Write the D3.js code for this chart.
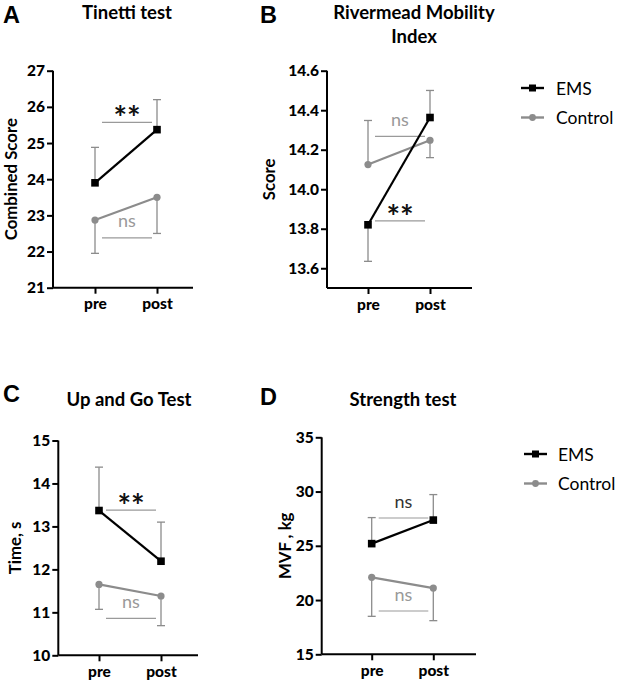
<!DOCTYPE html>
<html>
<head>
<meta charset="utf-8">
<script src="https://cdn.jsdelivr.net/npm/d3@7"></script>
<style>
  body { margin: 0; background: #fff; }
  svg { display: block; font-family: Lato, "Open Sans", sans-serif; }
</style>
</head>
<body>
<svg id="chart" width="617" height="687"></svg>
<script>
// time points
var timepoints = ["pre", "post"];

// A: Tinetti test
var tinettiEms = [23.9, 25.37];
var tinettiEmsErr = [24.88, 26.2];
var tinettiCtrl = [22.87, 23.5];
var tinettiCtrlErr = [21.95, 22.5];
var tinettiTicks = [21, 22, 23, 24, 25, 26, 27];

// B: Rivermead Mobility Index
var rivermeadEms = [13.82, 14.363];
var rivermeadEmsErr = [13.635, 14.5];
var rivermeadCtrl = [14.125, 14.248];
var rivermeadCtrlErr = [14.348, 14.16];
var rivermeadTicks = [13.6, 13.8, 14.0, 14.2, 14.4, 14.6];

// C: Up and Go Test
var upgoEms = [13.37, 12.19];
var upgoEmsErr = [14.38, 13.1];
var upgoCtrl = [11.65, 11.38];
var upgoCtrlErr = [11.07, 10.69];
var upgoTicks = [10, 11, 12, 13, 14, 15];

// D: Strength test
var strengthEms = [25.2, 27.37];
var strengthEmsErr = [27.6, 29.72];
var strengthCtrl = [22.09, 21.1];
var strengthCtrlErr = [18.5, 18.1];
var strengthTicks = [15, 20, 25, 30, 35];

// significance bars: y value, label, group
var tinettiSig = [{ y: 25.57, label: "**", group: "ems" }, { y: 22.38, label: "ns", group: "ctrl" }];
var rivermeadSig = [{ y: 14.268, label: "ns", group: "ctrl" }, { y: 13.84, label: "**", group: "ems" }];
var upgoSig = [{ y: 13.38, label: "**", group: "ems" }, { y: 10.86, label: "ns", group: "ctrl" }];
var strengthSig = [{ y: 27.56, label: "ns", group: "ems" }, { y: 18.99, label: "ns", group: "ctrl" }];

var legendLabels = ["EMS", "Control"];

var GRAY = "#8c8c8c";
var svg = d3.select("#chart");

var panels = [
  { letter: "A", title: ["Tinetti test"], yLabel: "Combined Score",
    ems: tinettiEms, emsErr: tinettiEmsErr, ctrl: tinettiCtrl, ctrlErr: tinettiCtrlErr,
    ticks: tinettiTicks, domain: [21, 27], fmt: d3.format("d"), sig: tinettiSig,
    ax: 53, top: 70.7, bottom: 287.7, right: 193, pre: 95, post: 157,
    letterPos: [3, 23.3], titleX: 127, titleY: 19, yLabelX: 10, legend: null },
  { letter: "B", title: ["Rivermead Mobility", "Index"], yLabel: "Score",
    ems: rivermeadEms, emsErr: rivermeadEmsErr, ctrl: rivermeadCtrl, ctrlErr: rivermeadCtrlErr,
    ticks: rivermeadTicks, domain: [13.5, 14.6], fmt: d3.format(".1f"), sig: rivermeadSig,
    ax: 327, top: 70.7, bottom: 288, right: 472, pre: 368, post: 430,
    letterPos: [260, 23.3], titleX: 414, titleY: 19, yLabelX: 268, legend: { x: 521, y: 88, tx: 556 } },
  { letter: "C", title: ["Up and Go Test"], yLabel: "Time, s",
    ems: upgoEms, emsErr: upgoEmsErr, ctrl: upgoCtrl, ctrlErr: upgoCtrlErr,
    ticks: upgoTicks, domain: [10, 15], fmt: d3.format("d"), sig: upgoSig,
    ax: 58.3, top: 440.5, bottom: 655.3, right: 198, pre: 99, post: 161,
    letterPos: [3, 402], titleX: 129, titleY: 406, yLabelX: 14, legend: null },
  { letter: "D", title: ["Strength test"], yLabel: "MVF , kg",
    ems: strengthEms, emsErr: strengthEmsErr, ctrl: strengthCtrl, ctrlErr: strengthCtrlErr,
    ticks: strengthTicks, domain: [15, 35], fmt: d3.format("d"), sig: strengthSig,
    ax: 321.7, top: 437.3, bottom: 654.3, right: 476, pre: 371.7, post: 433.3,
    letterPos: [260, 405], titleX: 403, titleY: 406, yLabelX: 284, legend: { x: 524, y: 454, tx: 558 } }
];

panels.forEach(function (p) {
  var y = d3.scaleLinear().domain(p.domain).range([p.bottom, p.top]);
  var x = d3.scalePoint().domain(timepoints).range([p.pre, p.post]);

  // panel letter
  svg.append("text")
    .attr("x", p.letterPos[0]).attr("y", p.letterPos[1])
    .style("font-family", "'Liberation Sans', Arial, sans-serif")
    .style("font-weight", "bold").style("font-size", "23.5px")
    .text(p.letter);

  // title
  p.title.forEach(function (t, i) {
    svg.append("text")
      .attr("x", p.titleX).attr("y", p.titleY + i * 23.5)
      .attr("text-anchor", "middle")
      .style("font-weight", "bold").style("font-size", "18.5px")
      .text(t);
  });

  // y axis title
  svg.append("text")
    .attr("transform", "translate(" + p.yLabelX + "," + ((p.top + p.bottom) / 2) + ") rotate(-90)")
    .attr("text-anchor", "middle")
    .attr("dominant-baseline", "central")
    .style("font-weight", "bold").style("font-size", "16.8px")
    .text(p.yLabel);

  // y axis
  var gy = svg.append("g")
    .attr("transform", "translate(" + p.ax + ",0)")
    .call(d3.axisLeft(y).tickValues(p.ticks).tickFormat(p.fmt).tickSize(6).tickPadding(2).tickSizeOuter(0));
  gy.select(".domain").attr("d", "M0," + p.top + "V" + p.bottom);

  // x axis
  var gx = svg.append("g")
    .attr("transform", "translate(0," + p.bottom + ")")
    .call(d3.axisBottom(x).tickSize(6).tickPadding(4.5).tickSizeOuter(0));
  gx.select(".domain").attr("d", "M" + p.ax + ",0H" + p.right);

  [gx, gy].forEach(function (g) {
    g.selectAll(".domain, .tick line").attr("stroke", "#000").attr("stroke-width", 2);
    g.selectAll(".tick text")
      .attr("fill", "#000")
      .style("font-family", "Lato, sans-serif")
      .style("font-weight", "900").style("font-size", "15.5px");
  });

  // significance bars
  p.sig.forEach(function (s) {
    var yy = y(s.y);
    svg.append("line")
      .attr("x1", x("pre") + 7).attr("x2", x("post") - 5)
      .attr("y1", yy).attr("y2", yy)
      .attr("stroke", "#9a9a9a").attr("stroke-width", 1.2);
    var cx = (x("pre") + x("post")) / 2 + 1;
    if (s.label === "**") {
      svg.append("text")
        .attr("x", cx).attr("y", yy + 8)
        .attr("text-anchor", "middle")
        .style("font-weight", "bold").style("font-size", "32px")
        .attr("fill", "#111")
        .text("**");
    } else {
      svg.append("text")
        .attr("x", cx).attr("y", yy - 10.5)
        .attr("text-anchor", "middle")
        .style("font-size", "18px")
        .attr("fill", s.group === "ems" ? "#333" : "#999")
        .text("ns");
    }
  });

  // error bars (one direction each)
  function errorBars(vals, errs) {
    timepoints.forEach(function (t, i) {
      var g = svg.append("g").attr("stroke", GRAY).attr("stroke-width", 1.3);
      g.append("line").attr("x1", x(t)).attr("x2", x(t)).attr("y1", y(vals[i])).attr("y2", y(errs[i]));
      g.append("line").attr("x1", x(t) - 4).attr("x2", x(t) + 4).attr("y1", y(errs[i])).attr("y2", y(errs[i]));
    });
  }
  errorBars(p.ctrl, p.ctrlErr);
  errorBars(p.ems, p.emsErr);

  var line = d3.line().x(function (d, i) { return x(timepoints[i]); }).y(function (d) { return y(d); });

  // control series
  svg.append("path").datum(p.ctrl).attr("d", line)
    .attr("fill", "none").attr("stroke", GRAY).attr("stroke-width", 2.2);
  svg.selectAll(null).data(p.ctrl).enter().append("circle")
    .attr("cx", function (d, i) { return x(timepoints[i]); })
    .attr("cy", function (d) { return y(d); })
    .attr("r", 3.6).attr("fill", GRAY);

  // EMS series
  svg.append("path").datum(p.ems).attr("d", line)
    .attr("fill", "none").attr("stroke", "#000").attr("stroke-width", 2.2);
  svg.selectAll(null).data(p.ems).enter().append("rect")
    .attr("x", function (d, i) { return x(timepoints[i]) - 3.8; })
    .attr("y", function (d) { return y(d) - 3.8; })
    .attr("width", 7.6).attr("height", 7.6).attr("fill", "#000");

  // legend
  if (p.legend) {
    var L = p.legend;
    legendLabels.forEach(function (lab, i) {
      var ly = L.y + i * 29.5;
      var col = i === 0 ? "#000" : GRAY;
      svg.append("line").attr("x1", L.x).attr("x2", L.x + 23).attr("y1", ly).attr("y2", ly)
        .attr("stroke", col).attr("stroke-width", 2.4);
      if (i === 0) {
        svg.append("rect").attr("x", L.x + 11.5 - 3.5).attr("y", ly - 3.5).attr("width", 7).attr("height", 7).attr("fill", col);
      } else {
        svg.append("circle").attr("cx", L.x + 11.5).attr("cy", ly).attr("r", 3.4).attr("fill", col);
      }
      svg.append("text").attr("x", L.tx).attr("y", ly)
        .attr("dominant-baseline", "central")
        .style("font-size", "17.5px")
        .text(lab);
    });
  }
});
</script>
</body>
</html>
